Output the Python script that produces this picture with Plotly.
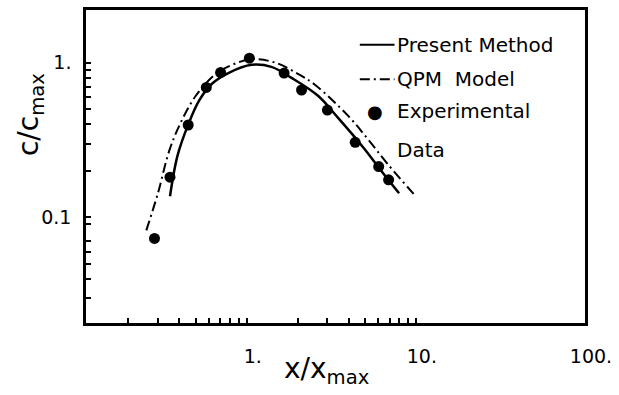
import plotly.graph_objects as go

# Experimental data (x/x_max, c/c_max)
exp_x = [0.285, 0.352, 0.451, 0.577, 0.701, 1.037, 1.664, 2.11, 3.0, 4.38, 6.03, 6.9]
exp_y = [0.073, 0.182, 0.396, 0.693, 0.866, 1.072, 0.858, 0.667, 0.495, 0.306, 0.213, 0.175]

# Present Method (solid curve)
pm_x = [0.352, 0.390, 0.451, 0.523, 0.623, 0.784, 1.07, 1.40, 1.84, 2.64, 3.46, 4.97, 6.22, 7.96]
pm_y = [0.137, 0.251, 0.398, 0.569, 0.732, 0.862, 0.971, 0.942, 0.800, 0.612, 0.442, 0.277, 0.201, 0.143]

# QPM Model (dash-dot curve)
qpm_x = [0.255, 0.298, 0.349, 0.408, 0.500, 0.655, 0.820, 1.07, 1.47, 2.02, 2.53, 3.97, 5.19, 6.80, 9.97]
qpm_y = [0.0824, 0.142, 0.271, 0.412, 0.612, 0.846, 0.971, 1.056, 1.004, 0.846, 0.722, 0.455, 0.322, 0.222, 0.137]

# Tick positions and labels
x_tickvals = [1, 10, 100]
x_ticktext = ["1.", "10.", "100."]
x_minorvals = [0.2, 0.3, 0.4, 0.5, 0.6, 0.7, 0.8, 0.9, 2, 3, 4, 5, 6, 7, 8, 9]
y_tickvals = [0.1, 1]
y_ticktext = ["0.1", "1."]
y_minorvals = [0.03, 0.04, 0.05, 0.06, 0.07, 0.09, 0.2, 0.3, 0.4, 0.5, 0.6, 0.7, 0.8, 0.9]

FONT = "DejaVu Sans"
DASHDOT = "10px,4px,2px,4px"

fig = go.Figure()
fig.add_trace(go.Scatter(x=pm_x, y=pm_y, mode="lines", line=dict(color="black", width=2.5, shape="spline"),
                         name="Present Method", showlegend=False))
fig.add_trace(go.Scatter(x=qpm_x, y=qpm_y, mode="lines",
                         line=dict(color="black", width=2, dash=DASHDOT, shape="spline"),
                         name="QPM Model", showlegend=False))
fig.add_trace(go.Scatter(x=exp_x, y=exp_y, mode="markers", marker=dict(color="black", size=11),
                         name="Experimental Data", showlegend=False))

L, R, T, B = 86, 30, 7, 72
W, H = 619, 395
pw, ph = W - L - R, H - T - B

def px(xp):
    return (xp - L) / pw

def py(yp):
    return (H - B - yp) / ph

shapes = [
    dict(type="line", xref="paper", yref="paper", x0=px(362), x1=px(397), y0=py(42), y1=py(42),
         line=dict(color="black", width=2)),
    dict(type="line", xref="paper", yref="paper", x0=px(362), x1=px(397), y0=py(77), y1=py(77),
         line=dict(color="black", width=2, dash=DASHDOT)),
]

ann = []
def text(xp, yp, s, size=20, **kw):
    d = dict(xref="paper", yref="paper", x=px(xp), y=py(yp), text=s, showarrow=False,
             xanchor="left", yanchor="middle", font=dict(family=FONT, size=size, color="black"))
    d.update(kw)
    ann.append(d)

text(397, 42, "Present Method")
text(397, 77, "QPM\u00a0\u00a0Model")
text(367, 109, "●", size=18)
text(397, 109, "Experimental")
text(397, 148, "Data")
ann.append(dict(xref="paper", yref="paper", x=px(328), y=py(350), text="x/x<sub>max</sub>",
                showarrow=False, xanchor="center", yanchor="top",
                font=dict(family=FONT, size=28, color="black")))
ann.append(dict(xref="paper", yref="paper", x=px(10), y=py(113), text="c/c<sub>max</sub>",
                showarrow=False, xanchor="left", yanchor="middle", textangle=-90,
                font=dict(family=FONT, size=28, color="black")))

minor_common = dict(ticks="inside", ticklen=5, tickwidth=1.5, tickcolor="black", showgrid=False)
axis_common = dict(type="log", showline=True, mirror=True, linecolor="black", linewidth=2.5,
                   ticks="inside", ticklen=5, tickwidth=1.5, tickcolor="black",
                   showgrid=False, zeroline=False,
                   tickfont=dict(family=FONT, size=19, color="black"))

fig.update_layout(
    width=W, height=H,
    margin=dict(l=L, r=R, t=T, b=B),
    paper_bgcolor="white", plot_bgcolor="white",
    xaxis=dict(range=[-0.950, 2.0], tickvals=x_tickvals, ticktext=x_ticktext,
               minor=dict(tickvals=x_minorvals, **minor_common),
               ticklabelstandoff=14, ticklabelshift=6, **axis_common),
    yaxis=dict(range=[-1.684, 0.342], tickvals=y_tickvals, ticktext=y_ticktext,
               minor=dict(tickvals=y_minorvals, **minor_common),
               ticklabelstandoff=8, **axis_common),
    shapes=shapes, annotations=ann,
)

fig.write_html("out.html")
